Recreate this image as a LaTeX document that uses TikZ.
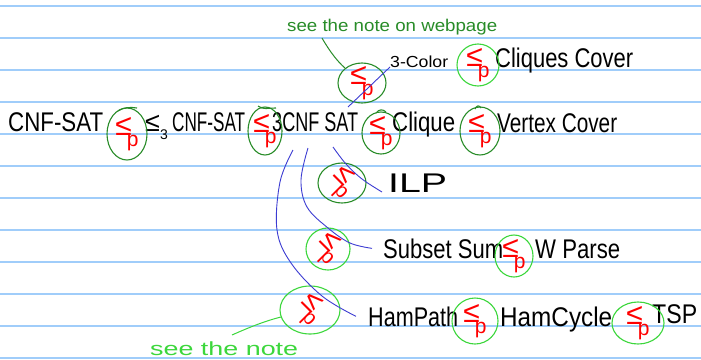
\documentclass[tikz,border=0pt]{standalone}
\usepackage{fontspec}
\setmainfont{Liberation Sans}
\definecolor{paper}{RGB}{160,205,250}
\definecolor{dgreen}{RGB}{40,140,40}
\definecolor{lgreen}{RGB}{60,215,60}
\definecolor{ink}{RGB}{60,60,210}
\newcommand{\hw}[2]{\resizebox{#1pt}{\height}{#2}}
\newcommand{\lep}{≤\kern-0.17em\raisebox{-0.36em}{\fontsize{21}{21}\selectfont p}}
\begin{document}
\begin{tikzpicture}[x=1pt,y=-1pt,
  word/.style={anchor=base west, inner sep=0pt, font=\fontsize{27}{27}\selectfont},
  small/.style={anchor=base west, inner sep=0pt, font=\fontsize{16}{16}\selectfont},
  ringd/.style={draw=dgreen, line width=1.1pt},
  ringl/.style={draw=lgreen, line width=1.1pt},
  redle/.style={text=red, font=\fontsize{30}{30}\selectfont, inner sep=0pt},
  conn/.style={draw=ink, line width=0.9pt},
  notetext/.style={anchor=base west, inner sep=0pt, font=\fontsize{17}{17}\selectfont}
]
\fill[white] (0,0) rectangle (701,359);
\useasboundingbox (0,0) rectangle (701,359);
\foreach \k in {0,...,11} \draw[paper, line width=2pt] (0,5.7+32*\k) -- (701,5.7+32*\k);

% words
\node[word] (cnfa) at (8,131) {\hw{95}{CNF-SAT}};
\node[word] (le3) at (145,131) {≤\raisebox{-.3em}{\fontsize{14}{14}\selectfont 3}};
\node[word] (cnfb) at (172,131) {\hw{73}{CNF-SAT}};
\node[word] (tcnf) at (272,131) {\hw{86}{3CNF SAT}};
\node[word] (clq) at (392,131) {\hw{63}{Clique}};
\node[word] (vc) at (497,132) {\hw{120}{Vertex Cover}};
\node[small] (col) at (390,67) {\hw{58}{3-Color}};
\node[word] (cc) at (495,67) {\hw{138}{Cliques Cover}};
\node[word] (ilp) at (388,192) {\hw{59}{ILP}};
\node[word] (ss) at (383,258) {\hw{120}{Subset Sum}};
\node[word] (wp) at (535,258) {\hw{85}{W Parse}};
\node[word] (hp) at (368,326) {\hw{90}{HamPath}};
\node[word] (hc) at (500,326) {\hw{112}{HamCycle}};
\node[word] (tsp) at (652,323) {\hw{45}{TSP}};

% rings: centre, radii
\coordinate (r1) at (127,134); \draw[ringd] (r1) ellipse [x radius=20, y radius=26];
\coordinate (r2) at (265,131); \draw[ringd] (r2) ellipse [x radius=17, y radius=24];
\coordinate (r3) at (381,133); \draw[ringd] (r3) ellipse [x radius=19, y radius=21];
\coordinate (r4) at (480,131); \draw[ringd] (r4) ellipse [x radius=20, y radius=24];
\coordinate (r5) at (362,83);  \draw[ringd] (r5) ellipse [x radius=24, y radius=20];
\coordinate (r6) at (478,65);  \draw[ringl] (r6) ellipse [x radius=21, y radius=21];
\coordinate (r7) at (342,183); \draw[ringd] (r7) ellipse [x radius=24, y radius=20];
\coordinate (r8) at (328,249); \draw[ringl] (r8) ellipse [x radius=22, y radius=21];
\coordinate (r9) at (310,310); \draw[ringl] (r9) ellipse [x radius=30, y radius=24];
\coordinate (r10) at (514,256); \draw[ringl] (r10) ellipse [x radius=19, y radius=21];
\coordinate (r11) at (475,321); \draw[ringl] (r11) ellipse [x radius=23, y radius=23];
\coordinate (r12) at (638,323); \draw[ringl] (r12) ellipse [x radius=26, y radius=21];
% little hooks where the rings were closed
\draw[ringd] (118,111) .. controls (124,107) and (130,107) .. (137,108);
\draw[ringd] (258,106) .. controls (263,110) and (268,108) .. (276,108);
\draw[ringd] (376,113) .. controls (379,109) and (383,109) .. (386,112);
\draw[ringd] (475,109) .. controls (477,105) and (479,105) .. (481,108);

\foreach \r in {r1,r2,r3,r4,r5,r6,r10,r11,r12} \node[redle] at (\r) {\lep};
\foreach \r in {r7,r8,r9} \node[redle, rotate=-45] at (\r) {\lep};

% blue connectors
\coordinate (a0) at (348,107);
\draw[conn] (a0) -- (col.base west);
\coordinate (b0) at (293,150);
\draw[conn] plot[smooth, tension=0.6] coordinates {(b0) (280,182) (277,230) (291,263) (322,296) ([xshift=-12pt]hp.west)};
\coordinate (c0) at (308,148);
\draw[conn] plot[smooth, tension=0.6] coordinates {(c0) (301,180) (307,207) (328,228) (350,243) ([xshift=-11pt]ss.west)};
\coordinate (d0) at (333,147);
\draw[conn] plot[smooth, tension=0.6] coordinates {(d0) (346,164) (362,179) ([xshift=-6pt]ilp.base west)};

% notes
\node[notetext, text=dgreen] (n1) at (287,31) {\hw{210}{see the note on webpage}};
\coordinate (n1s) at (322,38);
\coordinate (r5nw) at (345,68);
\draw[dgreen, line width=1pt] (n1s) .. controls (330,52) and (338,62) .. (r5nw);
\node[notetext, text=lgreen, font=\fontsize{19}{19}\selectfont] (n2) at (150,355) {\hw{148}{see the note}};
\coordinate (n2s) at (232,335);
\coordinate (r9w) at (281,317);
\draw[lgreen, line width=1pt] (n2s) .. controls (250,327) and (265,321) .. (r9w);
\end{tikzpicture}
\end{document}
